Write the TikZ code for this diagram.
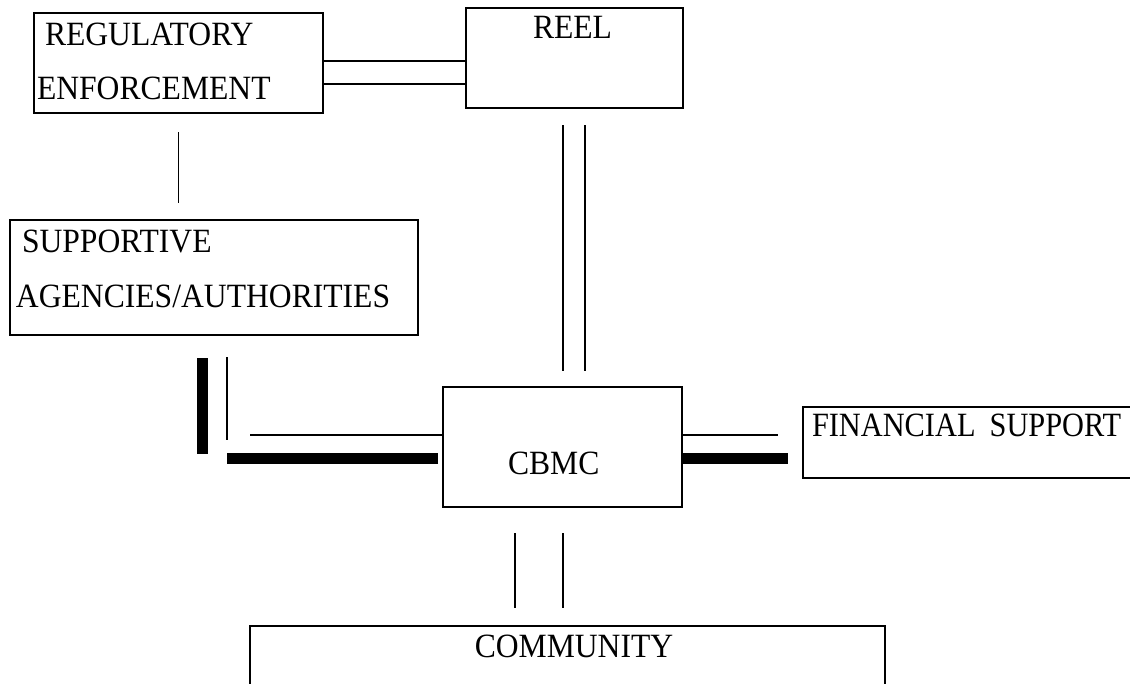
\documentclass[tikz,border=0pt]{standalone}
\usepackage{fontspec}
\setmainfont{Liberation Serif}[FakeStretch=0.93]
\begin{document}
\begin{tikzpicture}[x=1pt,y=-1pt,
  box/.style={draw, line width=2pt, rectangle, inner sep=0pt, outer sep=0pt, anchor=north west},
  lbl/.style={inner sep=0pt, outer sep=0pt, anchor=base west, font=\fontsize{34}{40}\selectfont},
  thin/.style={line width=1.2pt},
  thick/.style={line width=10.5pt}]
\useasboundingbox (0,0) rectangle (1130,683);
% boxes
\node[box, minimum width=289pt, minimum height=100pt] (reg) at (34,13) {};
\node[box, minimum width=217pt, minimum height=100pt] (reel) at (466,8) {};
\node[box, minimum width=408pt, minimum height=115pt] (supp) at (10,220) {};
\node[box, minimum width=239pt, minimum height=120pt] (cbmc) at (443,387) {};
\node[box, minimum width=340pt, minimum height=71pt] (fin) at (803,407) {};
\node[box, minimum width=635pt, minimum height=80pt] (comm) at (250,626) {};
% labels
\node[lbl] (tReg) at (45,45) {REGULATORY};
\node[lbl] (tEnf) at (37,99) {ENFORCEMENT};
\node[lbl] (tReel) at (533,38) {REEL};
\node[lbl] (tSup) at (22,252) {SUPPORTIVE};
\node[lbl] (tAg) at (16,307) {AGENCIES/AUTHORITIES};
\node[lbl] (tCbmc) at (508,474) {CBMC};
\node[lbl] (tFin) at (812,436) {\scalebox{0.96}[1]{FINANCIAL\hspace{0.2em} SUPPORT}};
\node[lbl, anchor=base] (tComm) at (574,657) {COMMUNITY};
% reg -- reel
\draw[thin] ([yshift=2pt]reg.east) -- ([yshift=2pt]reg.east -| reel.west);
\draw[thin] ([yshift=-21pt]reg.east) -- ([yshift=-21pt]reg.east -| reel.west);
% reg -- supp
\draw[thin] ([yshift=-19pt]reg.south) -- ++(0,71);
% reel -- cbmc
\draw[thin] ([xshift=-11.5pt,yshift=-17pt]reel.south) -- ++(0,246);
\draw[thin] ([xshift=10.5pt,yshift=-17pt]reel.south) -- ++(0,246);
% supp -- cbmc
\coordinate (sv1) at (202.5,358);
\coordinate (sv2) at (227,357);
\draw[thick] (sv1) -- ++(0,96);
\draw[thin] (sv2) -- ++(0,83);
\draw[thin] ([yshift=12pt]cbmc.west) -- ++(-193,0);
\draw[thick] ([xshift=-5pt,yshift=-11.5pt]cbmc.west) -- ++(-211,0);
% cbmc -- fin
\draw[thin] ([yshift=12pt]cbmc.east) -- ++(96,0);
\draw[thick] ([yshift=-11.5pt]cbmc.east) -- ([yshift=-11.5pt]cbmc.east -| {(788,0)});
% cbmc -- comm
\draw[thin] ([xshift=-47.5pt,yshift=-26pt]cbmc.south) -- ++(0,75);
\draw[thin] ([xshift=0.5pt,yshift=-26pt]cbmc.south) -- ++(0,75);
\end{tikzpicture}
\end{document}
